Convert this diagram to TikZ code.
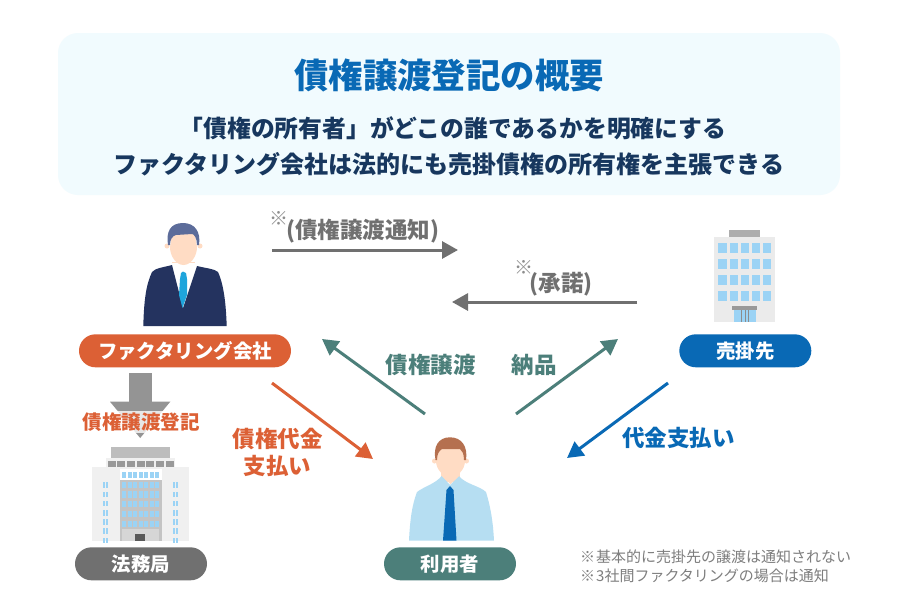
\documentclass[tikz,border=0pt]{standalone}
\usepackage{fontspec}
\setmainfont{Noto Sans CJK JP}
\usetikzlibrary{arrows.meta}
\definecolor{cOrange}{HTML}{DC6035}
\definecolor{cTeal}{HTML}{4C7F7A}
\definecolor{cBlue}{HTML}{0969B5}
\definecolor{cGray}{HTML}{707070}
\definecolor{cNavy}{HTML}{17375E}
\definecolor{cPanel}{HTML}{F1FBFE}
\definecolor{cSkin}{HTML}{FFDCC4}
\definecolor{cWin}{HTML}{9BD3F5}
\definecolor{cSuit}{HTML}{24335F}
\definecolor{cHair}{HTML}{5C6C9A}
\definecolor{cTie}{HTML}{1FA5DC}
\definecolor{cHairB}{HTML}{B5704F}
\definecolor{cShirt}{HTML}{B6DEF2}
\tikzset{
  pill/.style={fill=#1,rounded corners=16.5pt,minimum height=33pt,text=white,font=\fontsize{19.4}{19.4}\selectfont\bfseries,inner sep=0pt},
  conn/.style={draw=#1,line width=3pt,-{Triangle[length=16pt,width=17pt]}},
  lab/.style={text=#1,font=\fontsize{22.5}{27}\selectfont\bfseries,align=center,inner sep=0pt},
  head/.style={text=cNavy,font=\fontsize{24}{24}\selectfont\bfseries,inner sep=0pt},
  note/.style={text=#1,font=\fontsize{15}{15}\selectfont,inner sep=0pt},
  refmark/.style={text=cGray!80,font=\fontsize{19}{19}\selectfont,inner sep=0pt}
}
\begin{document}
\begin{tikzpicture}[x=1pt,y=-1pt]
\useasboundingbox (0,0) rectangle (900,600);
\fill[white] (0,0) rectangle (900,600);
% panel
\fill[cPanel,rounded corners=20pt] (58,33) rectangle (840,195);
\node[inner sep=0pt,text=cBlue,font=\fontsize{34.4}{34.4}\selectfont\bfseries] (title) at (449,75) {債権譲渡登記の概要};
\node[head,font=\fontsize{23.8}{24}\selectfont\bfseries] (line1) at (453,128) {「債権の所有者」がどこの誰であるかを明確にする};
\node[head] (line2) at (449,164) {ファクタリング会社は法的にも売掛債権の所有権を主張できる};
% man 1
\fill[cSkin] (172,262) rectangle (195,272);
\fill[white] (172,263) -- (197,263) -- (197,285) -- (182,308) -- (172,285) -- cycle;
\fill[cSuit] (143.3,326) .. controls (144,300) and (146,285) .. (152,272) .. controls (155,268) and (165,267) .. (172,265) -- (183,308) -- (197,266) .. controls (205,268) and (215,269) .. (218,272) .. controls (224,285) and (226,305) .. (226.7,326) -- cycle;
\fill[cTie] (181,273) -- (183,271.5) -- (186,273) -- (187,279) -- (187,295) -- (182.5,308) -- (179,295) -- (180,279) -- cycle;
\fill[cSkin] (172,235) .. controls (172,228) and (195,228) .. (195,235) -- (197,247) .. controls (197,256) and (191,265) .. (183.5,265) .. controls (176,265) and (170,256) .. (170,247) -- cycle;
\fill[cSkin] (167,246) circle (2.5) (200,246) circle (2.5);
\fill[cHair] (168,245) .. controls (166,232) and (170,223) .. (183,223) .. controls (195,223) and (201,232) .. (199,245) -- (197,245) .. controls (197,238) and (194,234) .. (192,234) -- (176,235) .. controls (172,236) and (170,240) .. (170,245) -- cycle;
\node[pill=cOrange,minimum width=212pt] (factor) at (185,350.8) {ファクタリング会社};
% arrow down gov
\fill[black!42] (129,373.3) rectangle (151.7,401.7);
\fill[black!42] (110,401.7) -- (170.3,401.7) -- (140.2,438) -- cycle;
\node[fill=white,fill opacity=.78,text opacity=1,text=cOrange,font=\fontsize{19.5}{19.5}\selectfont\bfseries,inner xsep=0pt,inner ysep=0pt,minimum height=22pt] (reg) at (141,421.7) {債権譲渡登記};
% gov building
\fill[black!26] (111,446.7) rectangle (170,458.3);
\fill[black!6] (105.7,458.3) rectangle (175,467.3);
\foreach \i in {0,...,6} {\fill[black!40] ({107.7+9.67*\i},461.3) rectangle ++(8,5.4);}
\fill[black!6] (91.7,466.7) rectangle (189.3,540.7);
\fill[black!23] (120,469) rectangle (161.7,540.7);
\fill[white] (120,469) rectangle (161.7,480);
\foreach \r in {0,...,5} {\foreach \i in {0,...,6} {\fill[cWin] ({122+5.5*\i},{471.7+9.8*\r}) rectangle ++(4.3,6.2);}}
\fill[black!16] (122,529) rectangle (159,540.7);
\fill[black!65] (135.3,533.5) rectangle (145,540.7);
\foreach \r in {0,...,6} {
  \fill[cWin] (103.3,{482.3+9.2*\r}) rectangle ++(2,5.6);
  \fill[cWin] (106.1,{482.3+9.2*\r}) rectangle ++(2,5.6);
  \fill[cWin] (172.7,{482.3+9.2*\r}) rectangle ++(2,5.6);
  \fill[cWin] (175.5,{482.3+9.2*\r}) rectangle ++(2,5.6);
}
\node[pill=cGray,minimum width=132pt] (gov) at (141,563.8) {法務局};
% man 2
\fill[cSkin] (441,470) rectangle (460,482);
\fill[cShirt] (409,540.7) .. controls (410,520) and (412,505) .. (417,492) .. controls (425,486) and (435,484) .. (441.7,476) -- (450,485) -- (459,476) .. controls (465,484) and (480,486) .. (486,492) .. controls (490,505) and (493,520) .. (494,540.7) -- cycle;
\fill[cBlue] (450,486) -- (453.5,490) -- (456.5,540.7) -- (443,540.7) -- (446.5,490) -- cycle;
\fill[cSkin] (450.5,484) -- (442,476) -- (442,470) -- (459,470) -- (459,476) -- cycle;
\fill[cSkin] (437,445) -- (464,445) -- (465,461) .. controls (465,470) and (457,477) .. (450.5,477) .. controls (444,477) and (436,470) .. (436,461) -- cycle;
\fill[cSkin] (434.5,461) circle (2.5) (466.5,461) circle (2.5);
\fill[cHairB] (435.5,460) .. controls (433,447) and (438,437.3) .. (450,437.3) .. controls (462,437.3) and (468,447) .. (466,460) -- (464,460) .. controls (464,453) and (462,451) .. (460,449) -- (442,449) .. controls (439,451) and (437,454) .. (437,460) -- cycle;
\node[pill=cTeal,minimum width=132pt] (user) at (450,563.8) {利用者};
% company building
\fill[black!32] (729.3,230) rectangle (760,237.3);
\fill[black!8] (714,237.3) rectangle (775.3,322);
\foreach \r in {0,...,3} {\foreach \i in {0,...,4} {\fill[cWin] ({718.3+11.2*\i},{243.3+15.9*\r}) rectangle ++(8.3,10);}}
\fill[black!40] (732.3,306) rectangle (757.3,310);
\fill[cWin] (734,310) rectangle (756,322);
\foreach \i in {0,1,2} {\fill[black!45] ({741+3.6*\i},310) rectangle ++(1,12);}
\node[pill=cBlue,minimum width=132pt] (buyer) at (745.3,350.8) {売掛先};
% connector ends
\coordinate (a1s) at (272,250); \coordinate (a1e) at (458,250);
\coordinate (a2s) at (637,302); \coordinate (a2e) at (452,302);
\coordinate (a3s) at (425,414); \coordinate (a3e) at (322,339);
\coordinate (a4s) at (516,414); \coordinate (a4e) at (618,339);
\coordinate (a5s) at (272,383); \coordinate (a5e) at (373,459);
\coordinate (a6s) at (668,383); \coordinate (a6e) at (567,458);
\draw[conn=cGray] (a1s) -- (a1e);
\draw[conn=cGray] (a2s) -- (a2e);
\draw[conn=cTeal] (a3s) -- (a3e);
\draw[conn=cTeal] (a4s) -- (a4e);
\draw[conn=cOrange] (a5s) -- (a5e);
\draw[conn=cBlue] (a6s) -- (a6e);
% labels
\node[refmark] (m1) at (279,218) {※};
\node[lab=cGray] (l1) at (362.5,231) {(債権譲渡通知)};
\node[refmark] (m2) at (524,267) {※};
\node[lab=cGray] (l2) at (561,284) {(承諾)};
\node[lab=cTeal] (l3) at (430.5,365) {債権譲渡};
\node[lab=cTeal] (l4) at (534,365) {納品};
\node[lab=cOrange] (l5) at (277.5,452) {債権代金\\支払い};
\node[lab=cBlue] (l6) at (678.5,438) {代金支払い};
\node[note=cGray!90,anchor=west] (n1) at (580,557) {※\kern1pt 基本的に売掛先の譲渡は通知されない};
\node[note=cGray!90,anchor=west] (n2) at (580,576) {※\kern1pt 3社間ファクタリングの場合は通知};
\end{tikzpicture}
\end{document}
